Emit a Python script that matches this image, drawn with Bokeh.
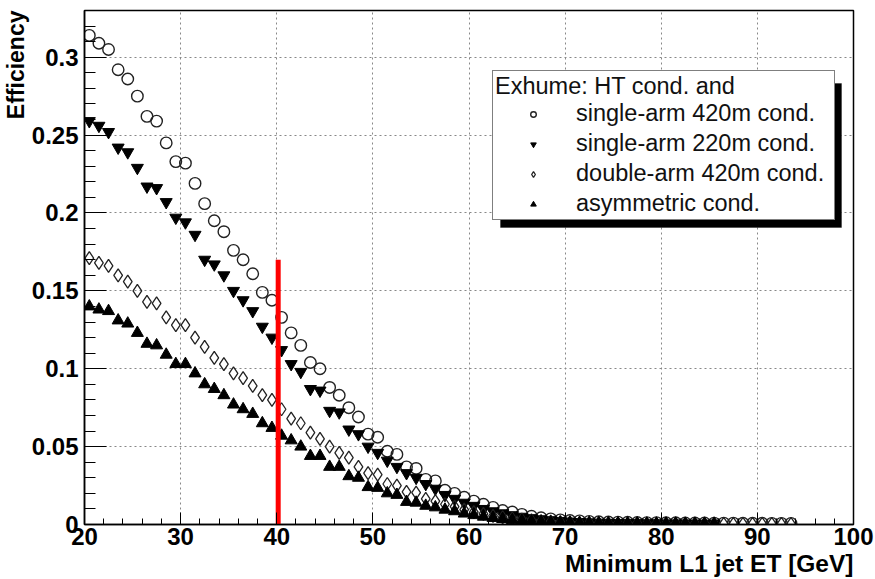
from bokeh.plotting import figure
from bokeh.models import (SingleIntervalTicker, CustomJSTickFormatter, Legend, LegendItem,
                          BoxAnnotation, Title, Range1d)
from bokeh.embed import file_html
from bokeh.resources import INLINE

# ---------------- data ----------------
x_bins = [20.5, 21.5, 22.5, 23.5, 24.5, 25.5, 26.5, 27.5, 28.5, 29.5,
          30.5, 31.5, 32.5, 33.5, 34.5, 35.5, 36.5, 37.5, 38.5, 39.5,
          40.5, 41.5, 42.5, 43.5, 44.5, 45.5, 46.5, 47.5, 48.5, 49.5,
          50.5, 51.5, 52.5, 53.5, 54.5, 55.5, 56.5, 57.5, 58.5, 59.5,
          60.5, 61.5, 62.5, 63.5, 64.5, 65.5, 66.5, 67.5, 68.5, 69.5,
          70.5, 71.5, 72.5, 73.5, 74.5, 75.5, 76.5, 77.5, 78.5, 79.5,
          80.5, 81.5, 82.5, 83.5, 84.5, 85.5, 86.5, 87.5, 88.5, 89.5,
          90.5, 91.5, 92.5, 93.5]

single_arm_420 = [0.314, 0.309, 0.305, 0.292, 0.286, 0.275, 0.262, 0.259, 0.245, 0.233,
                  0.232, 0.219, 0.206, 0.195, 0.188, 0.176, 0.170, 0.161, 0.149, 0.144,
                  0.133, 0.123, 0.115, 0.104, 0.100, 0.088, 0.083, 0.075, 0.069, 0.058,
                  0.056, 0.047, 0.045, 0.037, 0.036, 0.029, 0.028, 0.022, 0.020, 0.0175,
                  0.015, 0.013, 0.011, 0.009, 0.008, 0.0065, 0.0053, 0.0043, 0.0036, 0.003,
                  0.0026, 0.0023, 0.002, 0.0018, 0.0016, 0.0015, 0.0014, 0.0013, 0.0012, 0.0012,
                  0.0011, 0.0011, 0.001, 0.001, 0.001, 0.0009, 0.0009, 0.0009, 0.0008, 0.0008,
                  0.0008, 0.0007, 0.0007, 0.0007]

single_arm_220 = [0.259, 0.256, 0.252, 0.242, 0.239, 0.229, 0.217, 0.216, 0.207, 0.197,
                  0.194, 0.186, 0.170, 0.167, 0.160, 0.150, 0.144, 0.137, 0.127, 0.120,
                  0.112, 0.103, 0.098, 0.087, 0.086, 0.073, 0.072, 0.061, 0.058, 0.050,
                  0.046, 0.041, 0.037, 0.033, 0.030, 0.026, 0.023, 0.019, 0.0165, 0.014,
                  0.012, 0.010, 0.0085, 0.0072, 0.006, 0.005, 0.0041, 0.0034, 0.0028, 0.0023,
                  0.0019, 0.0016, 0.0014, 0.0012, 0.0011, 0.001, 0.0009, 0.0009, 0.0008, 0.0008,
                  0.0007, 0.0007, 0.0007, 0.0006, 0.0006, 0.0006]

double_arm_420 = [0.171, 0.168, 0.166, 0.160, 0.156, 0.150, 0.143, 0.142, 0.133, 0.128,
                  0.128, 0.120, 0.114, 0.107, 0.103, 0.097, 0.094, 0.089, 0.083, 0.080,
                  0.074, 0.068, 0.065, 0.059, 0.055, 0.050, 0.046, 0.043, 0.037, 0.033,
                  0.032, 0.026, 0.025, 0.021, 0.0205, 0.0165, 0.015, 0.013, 0.0115, 0.0095,
                  0.008, 0.0068, 0.0056, 0.0046, 0.0038, 0.0031, 0.0026, 0.0021, 0.0018, 0.0015,
                  0.0013, 0.0011, 0.001, 0.0009, 0.0008, 0.0008, 0.0007, 0.0007, 0.0006, 0.0006,
                  0.0006, 0.0005, 0.0005, 0.0005, 0.0005, 0.0005, 0.0004, 0.0004, 0.0004, 0.0004,
                  0.0004, 0.0004, 0.0004, 0.0004]

asymmetric = [0.140, 0.138, 0.137, 0.131, 0.129, 0.123, 0.116, 0.115, 0.109, 0.103,
              0.103, 0.097, 0.090, 0.087, 0.083, 0.077, 0.074, 0.071, 0.065, 0.062,
              0.057, 0.054, 0.050, 0.044, 0.044, 0.037, 0.037, 0.031, 0.030, 0.024,
              0.0235, 0.020, 0.019, 0.0145, 0.014, 0.012, 0.011, 0.0095, 0.0085, 0.007,
              0.006, 0.005, 0.0042, 0.0035, 0.0028, 0.0023, 0.0019, 0.0016, 0.0013, 0.0011,
              0.001, 0.0009, 0.0008, 0.0008, 0.0007, 0.0007, 0.0006, 0.0006, 0.0005, 0.0005,
              0.0005, 0.0005, 0.0004, 0.0004, 0.0004, 0.0004]

cut_x = [40.15]
cut_top = [0.17]

legend_title = "Exhume: HT cond. and"
legend_labels = ["single-arm 420m cond.", "single-arm 220m cond.",
                 "double-arm 420m cond.", "asymmetric cond."]

x_title = "Minimum L1 jet ET [GeV]"
y_title = "Efficiency"

# ---------------- layout ----------------
X0, X1 = 20, 100
Y0, Y1 = 0, 0.33
FL, FT, FW, FH = 84, 10, 769, 514   # frame left/top/width/height in px

def px_to_x(px):
    return X0 + (px - FL) * (X1 - X0) / FW

def py_to_y(py):
    return Y0 + (FT + FH - py) * (Y1 - Y0) / FH

FONT = "Liberation Sans"

p = figure(frame_width=FW, frame_height=FH, x_range=Range1d(X0, X1), y_range=Range1d(Y0, Y1),
           output_backend="svg", toolbar_location=None,
           min_border_left=FL, min_border_top=FT, min_border_right=875 - FL - FW,
           min_border_bottom=579 - FT - FH)
p.background_fill_color = "white"
p.border_fill_color = "white"
p.outline_line_color = "black"
p.outline_line_width = 1.5

for ax in (p.xaxis[0], p.yaxis[0]):
    ax.major_tick_out = 0
    ax.minor_tick_out = 0
    ax.axis_line_color = "black"
    ax.axis_line_width = 1.5
    ax.major_tick_line_color = "black"
    ax.minor_tick_line_color = "black"
    ax.major_label_text_font = FONT
    ax.major_label_text_font_style = "bold"
    ax.major_label_text_font_size = "24px"
    ax.major_label_text_color = "black"

p.xaxis.ticker = SingleIntervalTicker(interval=10, num_minor_ticks=5)
p.yaxis.ticker = SingleIntervalTicker(interval=0.05, num_minor_ticks=5)
p.yaxis.formatter = CustomJSTickFormatter(code="return String(Number(tick.toFixed(2)));")
p.xaxis.major_tick_in = 12
p.xaxis.minor_tick_in = 6
p.yaxis.major_tick_in = 22
p.yaxis.minor_tick_in = 11
p.xaxis.major_label_standoff = 3
p.yaxis.major_label_standoff = 6

p.xgrid.grid_line_color = "#888888"
p.ygrid.grid_line_color = "#888888"
p.xgrid.grid_line_dash = "2 3"
p.ygrid.grid_line_dash = "2 3"

# data markers
r1 = p.scatter(x_bins[:len(single_arm_420)], single_arm_420, marker="circle", size=11.5,
               fill_color=None, line_color="#222222", line_width=1.4)
r2 = p.scatter(x_bins[:len(single_arm_220)], single_arm_220, marker="inverted_triangle", size=12,
               fill_color="black", line_color="black")
r3 = p.scatter(x_bins[:len(double_arm_420)], double_arm_420, marker="diamond", size=13,
               fill_color=None, line_color="#222222", line_width=1.3)
r4 = p.scatter(x_bins[:len(asymmetric)], asymmetric, marker="triangle", size=12,
               fill_color="black", line_color="black")

# red cut line
p.segment(x0=cut_x, y0=[0] * len(cut_x), x1=cut_x, y1=cut_top, line_color="#ff0000", line_width=5)

# legend shadow
shadow = BoxAnnotation(left=px_to_x(500), right=px_to_x(841), top=py_to_y(83), bottom=py_to_y(227),
                       fill_color="black", fill_alpha=1.0, line_color="black", level="annotation")
p.add_layout(shadow)

legend = Legend(items=[LegendItem(label=legend_labels[0], renderers=[r1]),
                       LegendItem(label=legend_labels[1], renderers=[r2]),
                       LegendItem(label=legend_labels[2], renderers=[r3]),
                       LegendItem(label=legend_labels[3], renderers=[r4])],
                title=legend_title, location=(492 - FL, FT + FH - 220))
legend.margin = 0
legend.padding = 2
legend.spacing = 3
legend.label_height = 24
legend.glyph_height = 14
legend.glyph_width = 76
legend.label_standoff = 5
legend.label_width = 256
legend.title_standoff = 0
legend.title_text_font = FONT
legend.title_text_font_size = "23.5px"
legend.title_text_font_style = "normal"
legend.label_text_font = FONT
legend.label_text_font_size = "23.5px"
legend.label_text_color = "#111111"
legend.title_text_color = "#111111"
legend.border_line_color = "black"
legend.border_line_width = 1
legend.background_fill_color = "white"
legend.background_fill_alpha = 1.0
p.add_layout(legend)

p.add_layout(Title(text=y_title, align="right", text_font=FONT, text_font_size="23px",
                   text_font_style="bold", text_color="black", standoff=0), "left")
p.add_layout(Title(text=x_title, align="right", text_font=FONT, text_font_size="24.5px",
                   text_font_style="bold", text_color="black", standoff=0), "below")

open("out.html", "w").write(file_html(p, INLINE))
